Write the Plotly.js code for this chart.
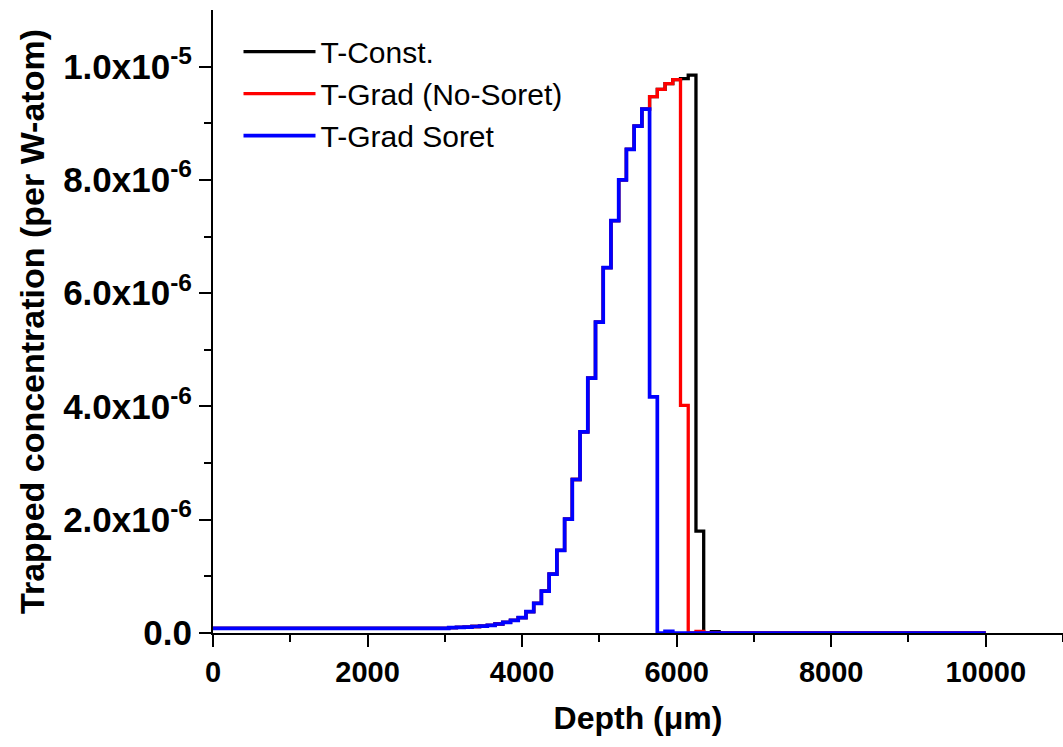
<!DOCTYPE html>
<html>
<head>
<meta charset="utf-8">
<script src="https://cdn.plot.ly/plotly-3.0.1.min.js"></script>
<style>html,body{margin:0;padding:0;background:#fff;}#chart{width:1063px;height:747px;}</style>
</head>
<body>
<div id="chart"></div>
<script>
// Depth (µm), bin centres of the step profiles
const depthConst = [0, 3000, 3100, 3200, 3300, 3400, 3500, 3600, 3700, 3800, 3900, 4000, 4100, 4200, 4300, 4400, 4500, 4600, 4700, 4800, 4900, 5000, 5100, 5200, 5300, 5400, 5500, 5600, 5700, 5800, 5900, 6000, 6100, 6200, 6300, 6400, 6500, 6600, 10000];
const trapConst = [0.08e-6, 0.08e-6, 0.095e-6, 0.10e-6, 0.105e-6, 0.115e-6, 0.12e-6, 0.136e-6, 0.159e-6, 0.189e-6, 0.224e-6, 0.27e-6, 0.376e-6, 0.524e-6, 0.741e-6, 1.04e-6, 1.46e-6, 2.01e-6, 2.71e-6, 3.55e-6, 4.50e-6, 5.49e-6, 6.45e-6, 7.28e-6, 8.00e-6, 8.54e-6, 8.95e-6, 9.25e-6, 9.47e-6, 9.60e-6, 9.70e-6, 9.77e-6, 9.79e-6, 9.85e-6, 1.80e-6, 0, 0.025e-6, 0, 0];

const depthNoSoret = [0, 3000, 3100, 3200, 3300, 3400, 3500, 3600, 3700, 3800, 3900, 4000, 4100, 4200, 4300, 4400, 4500, 4600, 4700, 4800, 4900, 5000, 5100, 5200, 5300, 5400, 5500, 5600, 5700, 5800, 5900, 6000, 6100, 6200, 6300, 6400, 10000];
const trapNoSoret = [0.08e-6, 0.08e-6, 0.095e-6, 0.10e-6, 0.105e-6, 0.115e-6, 0.12e-6, 0.136e-6, 0.159e-6, 0.189e-6, 0.224e-6, 0.27e-6, 0.376e-6, 0.524e-6, 0.741e-6, 1.04e-6, 1.46e-6, 2.01e-6, 2.71e-6, 3.55e-6, 4.50e-6, 5.49e-6, 6.45e-6, 7.28e-6, 8.00e-6, 8.54e-6, 8.95e-6, 9.25e-6, 9.47e-6, 9.60e-6, 9.70e-6, 9.77e-6, 4.02e-6, 0, 0.03e-6, 0, 0];

const depthSoret = [0, 3000, 3100, 3200, 3300, 3400, 3500, 3600, 3700, 3800, 3900, 4000, 4100, 4200, 4300, 4400, 4500, 4600, 4700, 4800, 4900, 5000, 5100, 5200, 5300, 5400, 5500, 5600, 5700, 5800, 5900, 6000, 10000];
const trapSoret = [0.08e-6, 0.08e-6, 0.095e-6, 0.10e-6, 0.105e-6, 0.115e-6, 0.12e-6, 0.136e-6, 0.159e-6, 0.189e-6, 0.224e-6, 0.27e-6, 0.376e-6, 0.524e-6, 0.741e-6, 1.04e-6, 1.46e-6, 2.01e-6, 2.71e-6, 3.55e-6, 4.50e-6, 5.49e-6, 6.45e-6, 7.28e-6, 8.00e-6, 8.54e-6, 8.95e-6, 9.25e-6, 4.17e-6, 0, 0.03e-6, 0, 0];

const seriesNames = ['T-Const.', 'T-Grad (No-Soret)', 'T-Grad Soret'];
const seriesColors = ['#000000', '#ff0000', '#0000ff'];
const seriesWidths = [3.3, 3.3, 3.7];

const yTickVals = [0, 2e-6, 4e-6, 6e-6, 8e-6, 1e-5];
const yTickText = ['0.0', '2.0x10<sup>-6</sup>', '4.0x10<sup>-6</sup>', '6.0x10<sup>-6</sup>', '8.0x10<sup>-6</sup>', '1.0x10<sup>-5</sup>'];
const xTickVals = [0, 2000, 4000, 6000, 8000, 10000];

const xs = [depthConst, depthNoSoret, depthSoret];
const ys = [trapConst, trapNoSoret, trapSoret];

const traces = xs.map((x, i) => ({
  x: x, y: ys[i], type: 'scatter', mode: 'lines', name: seriesNames[i],
  line: {color: seriesColors[i], width: seriesWidths[i], shape: 'hvh'}
}));

const FONT = 'Liberation Sans, Arial, sans-serif';

const layout = {
  width: 1063, height: 747,
  margin: {l: 213, r: 0, t: 10, b: 114},
  paper_bgcolor: '#ffffff', plot_bgcolor: '#ffffff',
  showlegend: true,
  legend: {
    x: 0.03, y: 0.975, xanchor: 'left', yanchor: 'top',
    bgcolor: 'rgba(0,0,0,0)', borderwidth: 0,
    font: {family: FONT, size: 30, color: '#000'},
    itemwidth: 72, tracegroupgap: 0
  },
  xaxis: {
    range: [0, 11000], tickvals: xTickVals, ticktext: xTickVals.map(String),
    showgrid: false, zeroline: false, showline: true, linecolor: '#000', linewidth: 2,
    ticks: 'outside', ticklen: 12, tickwidth: 2, tickcolor: '#000',
    minor: {dtick: 1000, tick0: 0, ticks: 'outside', ticklen: 7, tickwidth: 2, tickcolor: '#000', showgrid: false},
    tickfont: {family: FONT, size: 29, color: '#000', weight: 'bold'},
    title: {text: 'Depth (μm)', font: {family: FONT, size: 32, color: '#000', weight: 'bold'}, standoff: 20},
    layer: 'below traces'
  },
  yaxis: {
    range: [0, 1.1e-5], tickvals: yTickVals, ticktext: yTickText,
    showgrid: false, zeroline: false, showline: true, linecolor: '#000', linewidth: 2,
    ticks: 'outside', ticklen: 12, tickwidth: 2, tickcolor: '#000',
    minor: {tickvals: [1e-6, 3e-6, 5e-6, 7e-6, 9e-6], ticks: 'outside', ticklen: 7, tickwidth: 2, tickcolor: '#000', showgrid: false},
    tickfont: {family: FONT, size: 35, color: '#000', weight: 'bold'},
    title: {text: 'Trapped concentration (per W-atom)', font: {family: FONT, size: 34, color: '#000', weight: 'bold'}, standoff: 8},
    layer: 'below traces'
  }
};

Plotly.newPlot('chart', traces, layout, {displayModeBar: false, staticPlot: true});
</script>
</body>
</html>
